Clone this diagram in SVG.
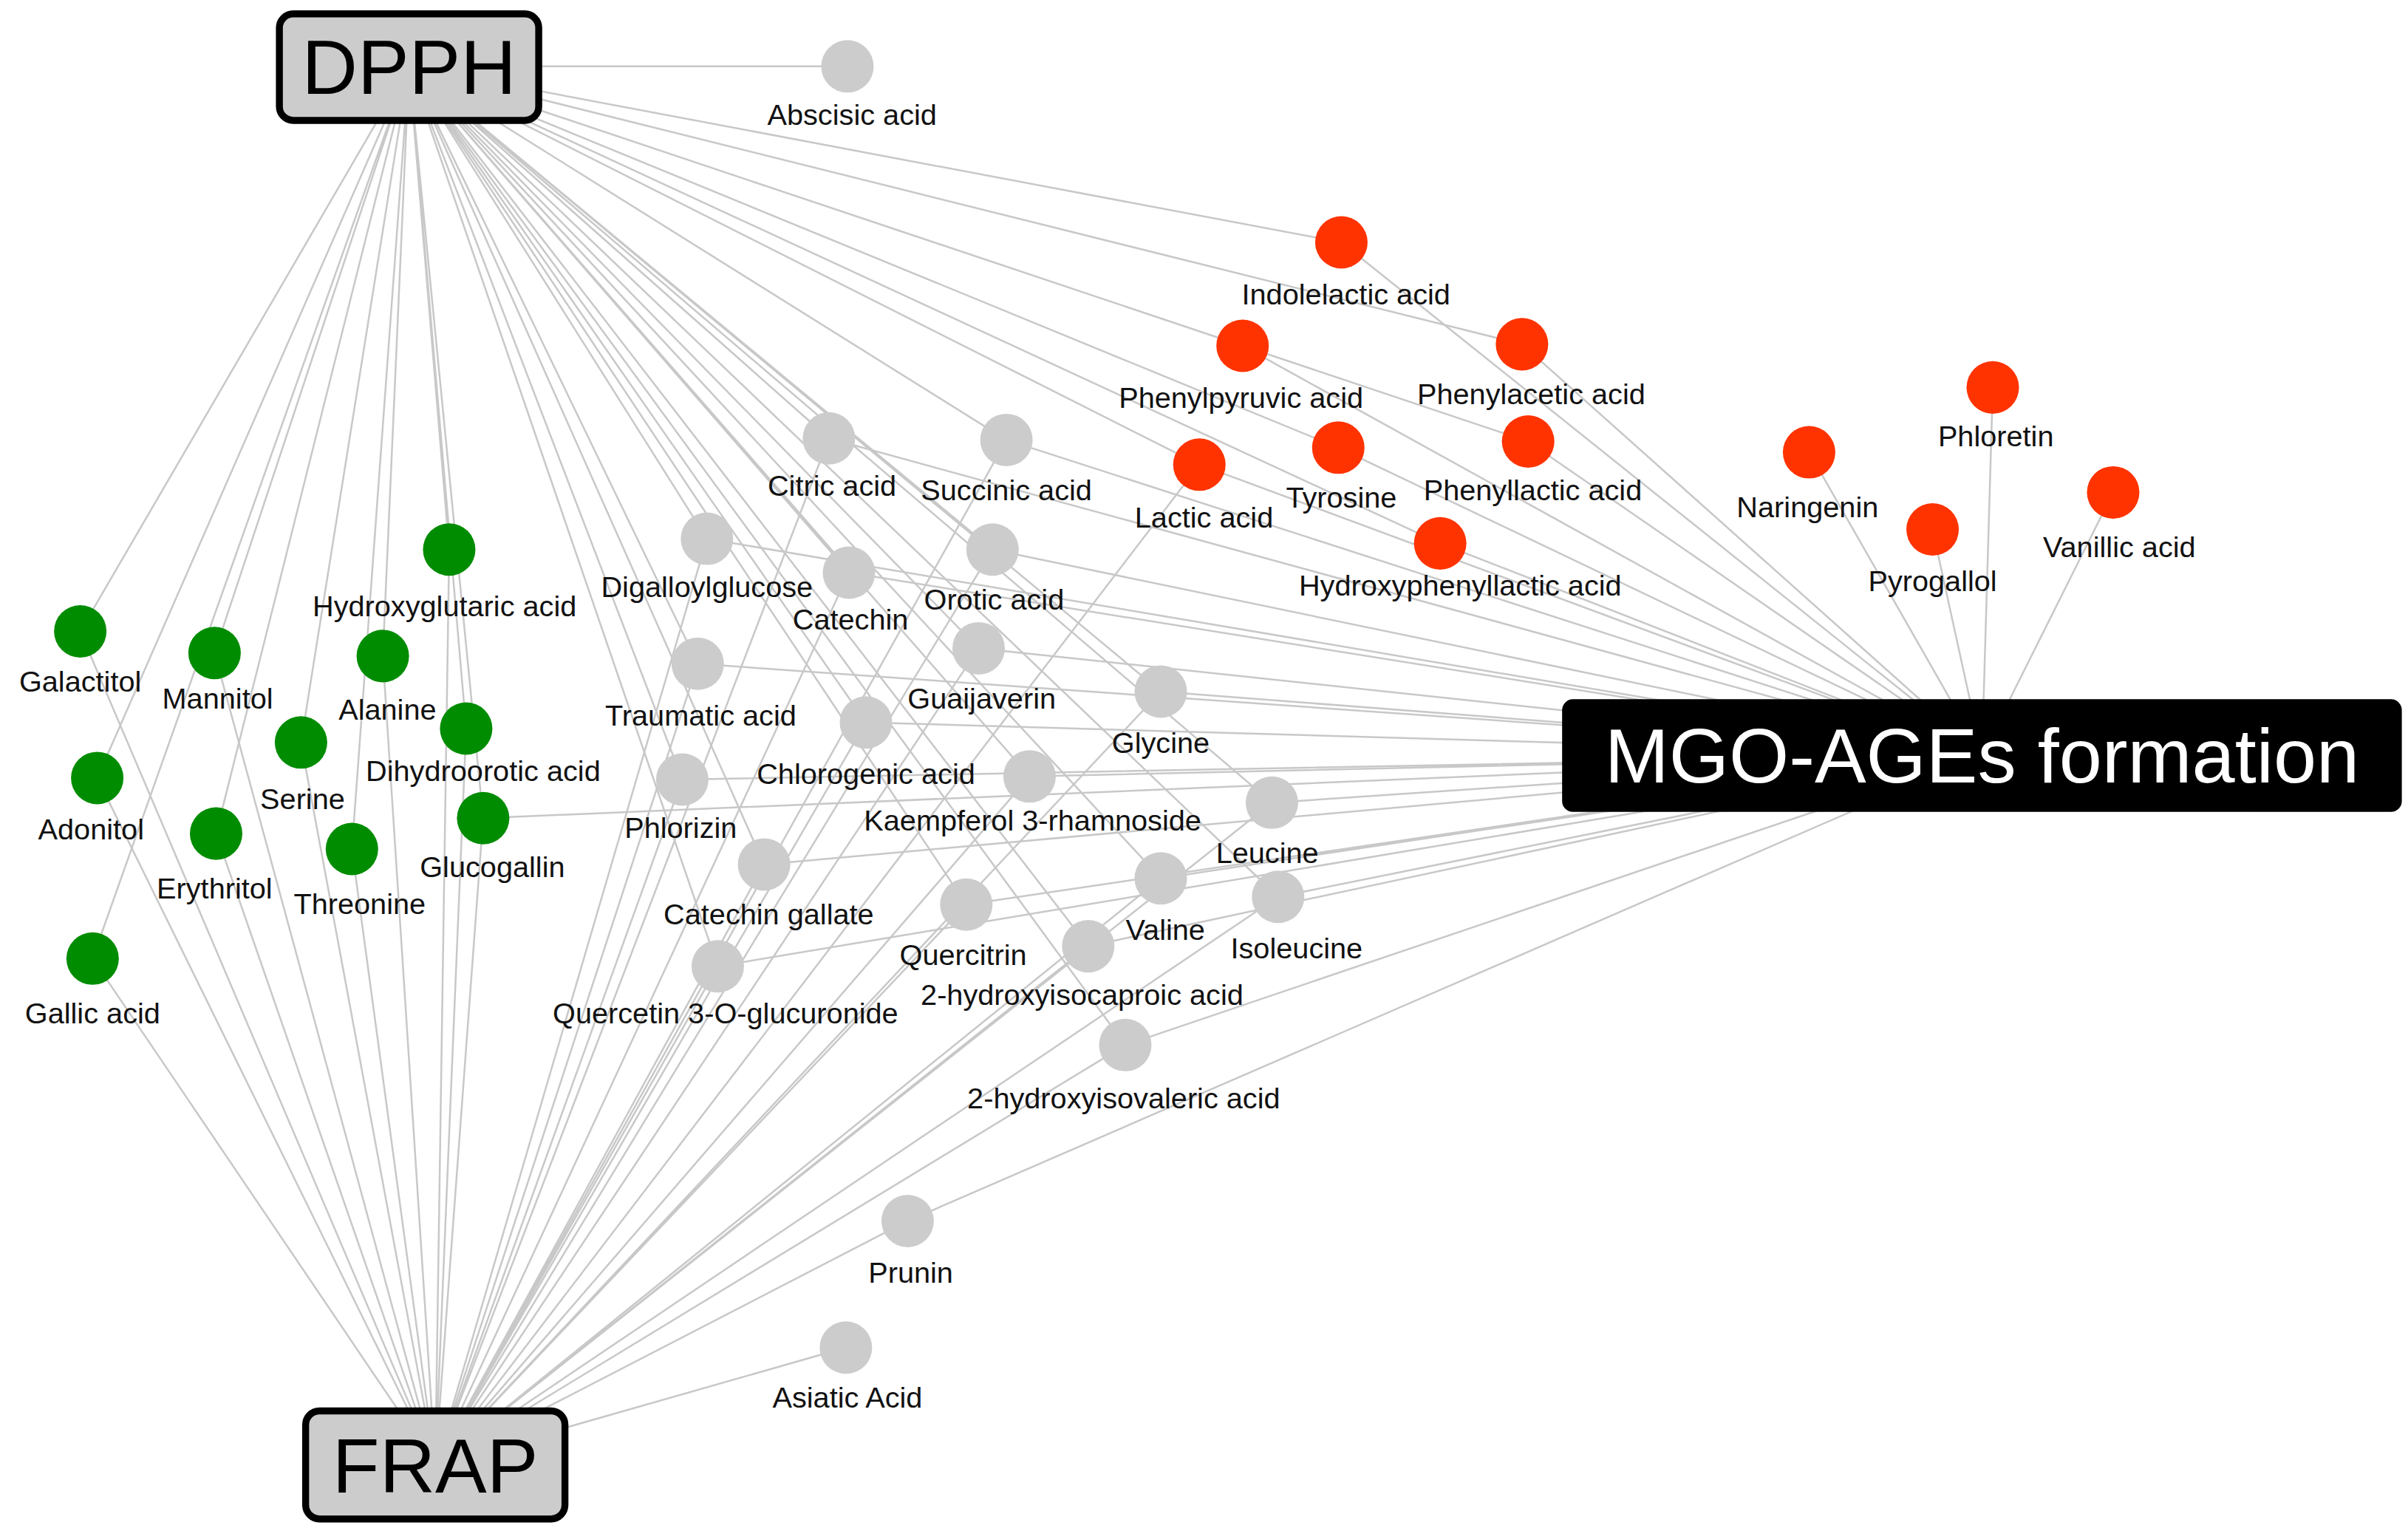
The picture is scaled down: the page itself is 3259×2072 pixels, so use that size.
<svg xmlns="http://www.w3.org/2000/svg" width="3259" height="2072" viewBox="0 0 3259 2072">
<style>
.e{stroke:#c8c8c8;stroke-width:1.2;fill:none}
.g{fill:#cccccc}.gr{fill:#008c00}.r{fill:#ff3300}
text{font-family:"Liberation Sans",Arial,sans-serif;font-size:19px;fill:#111;text-anchor:middle}
.box{fill:#cccccc;stroke:#000;stroke-width:4.5}
.big{font-size:50px;fill:#000}
</style>
<rect width="3259" height="2072" fill="#fff"/>
<g transform="scale(2.0891)">
<g id="connectors">
<path class="e" d="M265 43L549 43"/>
<path class="e" d="M265 43L869 157M265 43L805 224M265 43L986 223M265 43L867 290M265 43L990 286M265 43L777 301M265 43L933 352"/>
<path class="e" d="M869 157L1284 489M805 224L1284 489M986 223L1284 489M867 290L1284 489M990 286L1284 489M777 301L1284 489M933 352L1284 489M1172 293L1284 489M1291 251L1284 489M1252 343L1284 489M1369 319L1284 489"/>
<path class="e" d="M265 43L537 284M265 43L652 285M265 43L458 349M265 43L550 371M265 43L643 356M265 43L634 420M265 43L452 430M265 43L752 448M265 43L561 468M265 43L442 505M265 43L667 503M265 43L824 520M265 43L495 560M265 43L752 569M265 43L828 581M265 43L626 586M265 43L705 613M265 43L465 626M265 43L729 677"/>
<path class="e" d="M282 949L537 284M282 949L652 285M282 949L458 349M282 949L550 371M282 949L643 356M282 949L634 420M282 949L452 430M282 949L752 448M282 949L561 468M282 949L442 505M282 949L667 503M282 949L824 520M282 949L495 560M282 949L752 569M282 949L828 581M282 949L626 586M282 949L705 613M282 949L465 626M282 949L729 677M282 949L588 791M282 949L548 873M282 949L777 301"/>
<path class="e" d="M1284 489L537 284M1284 489L652 285M1284 489L458 349M1284 489L550 371M1284 489L643 356M1284 489L634 420M1284 489L452 430M1284 489L752 448M1284 489L561 468M1284 489L442 505M1284 489L667 503M1284 489L824 520M1284 489L495 560M1284 489L752 569M1284 489L828 581M1284 489L626 586M1284 489L705 613M1284 489L465 626M1284 489L729 677M1284 489L588 791M1284 489L313 530"/>
<path class="e" d="M265 43L291 356M265 43L52 409M265 43L139 423M265 43L248 425M265 43L195 481M265 43L302 472M265 43L63 504M265 43L140 540M265 43L228 550M265 43L313 530M265 43L60 621"/>
<path class="e" d="M282 949L291 356M282 949L52 409M282 949L139 423M282 949L248 425M282 949L195 481M282 949L302 472M282 949L63 504M282 949L140 540M282 949L228 550M282 949L313 530M282 949L60 621"/>
</g>
<g id="n-abscisic"><circle class="g" cx="549" cy="43" r="17"/><text x="552" y="81">Abscisic acid</text></g>
<g id="n-indolelactic"><circle class="r" cx="869" cy="157" r="17"/><text x="872" y="197">Indolelactic acid</text></g>
<g id="n-phenylpyruvic"><circle class="r" cx="805" cy="224" r="17"/><text x="804" y="264">Phenylpyruvic acid</text></g>
<g id="n-phenylacetic"><circle class="r" cx="986" cy="223" r="17"/><text x="992" y="262">Phenylacetic acid</text></g>
<g id="n-tyrosine"><circle class="r" cx="867" cy="290" r="17"/><text x="869" y="329">Tyrosine</text></g>
<g id="n-phenyllactic"><circle class="r" cx="990" cy="286" r="17"/><text x="993" y="324">Phenyllactic acid</text></g>
<g id="n-lactic"><circle class="r" cx="777" cy="301" r="17"/><text x="780" y="342">Lactic acid</text></g>
<g id="n-hydroxyphenyllactic"><circle class="r" cx="933" cy="352" r="17"/><text x="946" y="386">Hydroxyphenyllactic acid</text></g>
<g id="n-naringenin"><circle class="r" cx="1172" cy="293" r="17"/><text x="1171" y="335">Naringenin</text></g>
<g id="n-phloretin"><circle class="r" cx="1291" cy="251" r="17"/><text x="1293" y="289">Phloretin</text></g>
<g id="n-pyrogallol"><circle class="r" cx="1252" cy="343" r="17"/><text x="1252" y="383">Pyrogallol</text></g>
<g id="n-vanillic"><circle class="r" cx="1369" cy="319" r="17"/><text x="1373" y="361">Vanillic acid</text></g>
<g id="n-citric"><circle class="g" cx="537" cy="284" r="17"/><text x="539" y="321">Citric acid</text></g>
<g id="n-succinic"><circle class="g" cx="652" cy="285" r="17"/><text x="652" y="324">Succinic acid</text></g>
<g id="n-digalloylglucose"><circle class="g" cx="458" cy="349" r="17"/><text x="458" y="387">Digalloylglucose</text></g>
<g id="n-catechin"><circle class="g" cx="550" cy="371" r="17"/><text x="551" y="408">Catechin</text></g>
<g id="n-orotic"><circle class="g" cx="643" cy="356" r="17"/><text x="644" y="395">Orotic acid</text></g>
<g id="n-guaijaverin"><circle class="g" cx="634" cy="420" r="17"/><text x="636" y="459">Guaijaverin</text></g>
<g id="n-traumatic"><circle class="g" cx="452" cy="430" r="17"/><text x="454" y="470">Traumatic acid</text></g>
<g id="n-glycine"><circle class="g" cx="752" cy="448" r="17"/><text x="752" y="488">Glycine</text></g>
<g id="n-chlorogenic"><circle class="g" cx="561" cy="468" r="17"/><text x="561" y="508">Chlorogenic acid</text></g>
<g id="n-phlorizin"><circle class="g" cx="442" cy="505" r="17"/><text x="441" y="543">Phlorizin</text></g>
<g id="n-kaempferol"><circle class="g" cx="667" cy="503" r="17"/><text x="669" y="538">Kaempferol 3-rhamnoside</text></g>
<g id="n-leucine"><circle class="g" cx="824" cy="520" r="17"/><text x="821" y="559">Leucine</text></g>
<g id="n-catechingallate"><circle class="g" cx="495" cy="560" r="17"/><text x="498" y="599">Catechin gallate</text></g>
<g id="n-valine"><circle class="g" cx="752" cy="569" r="17"/><text x="755" y="609">Valine</text></g>
<g id="n-isoleucine"><circle class="g" cx="828" cy="581" r="17"/><text x="840" y="621">Isoleucine</text></g>
<g id="n-quercitrin"><circle class="g" cx="626" cy="586" r="17"/><text x="624" y="625">Quercitrin</text></g>
<g id="n-hic"><circle class="g" cx="705" cy="613" r="17"/><text x="701" y="651">2-hydroxyisocaproic acid</text></g>
<g id="n-q3g"><circle class="g" cx="465" cy="626" r="17"/><text x="470" y="663">Quercetin 3-O-glucuronide</text></g>
<g id="n-hiv"><circle class="g" cx="729" cy="677" r="17"/><text x="728" y="718">2-hydroxyisovaleric acid</text></g>
<g id="n-prunin"><circle class="g" cx="588" cy="791" r="17"/><text x="590" y="831">Prunin</text></g>
<g id="n-asiatic"><circle class="g" cx="548" cy="873" r="17"/><text x="549" y="912">Asiatic Acid</text></g>
<g id="n-hydroxyglutaric"><circle class="gr" cx="291" cy="356" r="17"/><text x="288" y="399">Hydroxyglutaric acid</text></g>
<g id="n-galactitol"><circle class="gr" cx="52" cy="409" r="17"/><text x="52" y="448">Galactitol</text></g>
<g id="n-mannitol"><circle class="gr" cx="139" cy="423" r="17"/><text x="141" y="459">Mannitol</text></g>
<g id="n-alanine"><circle class="gr" cx="248" cy="425" r="17"/><text x="251" y="466">Alanine</text></g>
<g id="n-serine"><circle class="gr" cx="195" cy="481" r="17"/><text x="196" y="524">Serine</text></g>
<g id="n-dihydroorotic"><circle class="gr" cx="302" cy="472" r="17"/><text x="313" y="506">Dihydroorotic acid</text></g>
<g id="n-adonitol"><circle class="gr" cx="63" cy="504" r="17"/><text x="59" y="544">Adonitol</text></g>
<g id="n-erythritol"><circle class="gr" cx="140" cy="540" r="17"/><text x="139" y="582">Erythritol</text></g>
<g id="n-threonine"><circle class="gr" cx="228" cy="550" r="17"/><text x="233" y="592">Threonine</text></g>
<g id="n-glucogallin"><circle class="gr" cx="313" cy="530" r="17"/><text x="319" y="568">Glucogallin</text></g>
<g id="n-gallic"><circle class="gr" cx="60" cy="621" r="17"/><text x="60" y="663">Gallic acid</text></g>
<g id="n-dpph"><rect class="box" x="181" y="9" width="168" height="69" rx="9"/><text class="big" x="265" y="61">DPPH</text></g>
<g id="n-frap"><rect class="box" x="198" y="914" width="168" height="70" rx="9"/><text class="big" x="282" y="967">FRAP</text></g>
<g id="n-mgo"><rect x="1012" y="453" width="544" height="73" rx="7" fill="#000"/><text class="big" x="1284" y="507" style="fill:#fff">MGO-AGEs formation</text></g>
</g>
</svg>
